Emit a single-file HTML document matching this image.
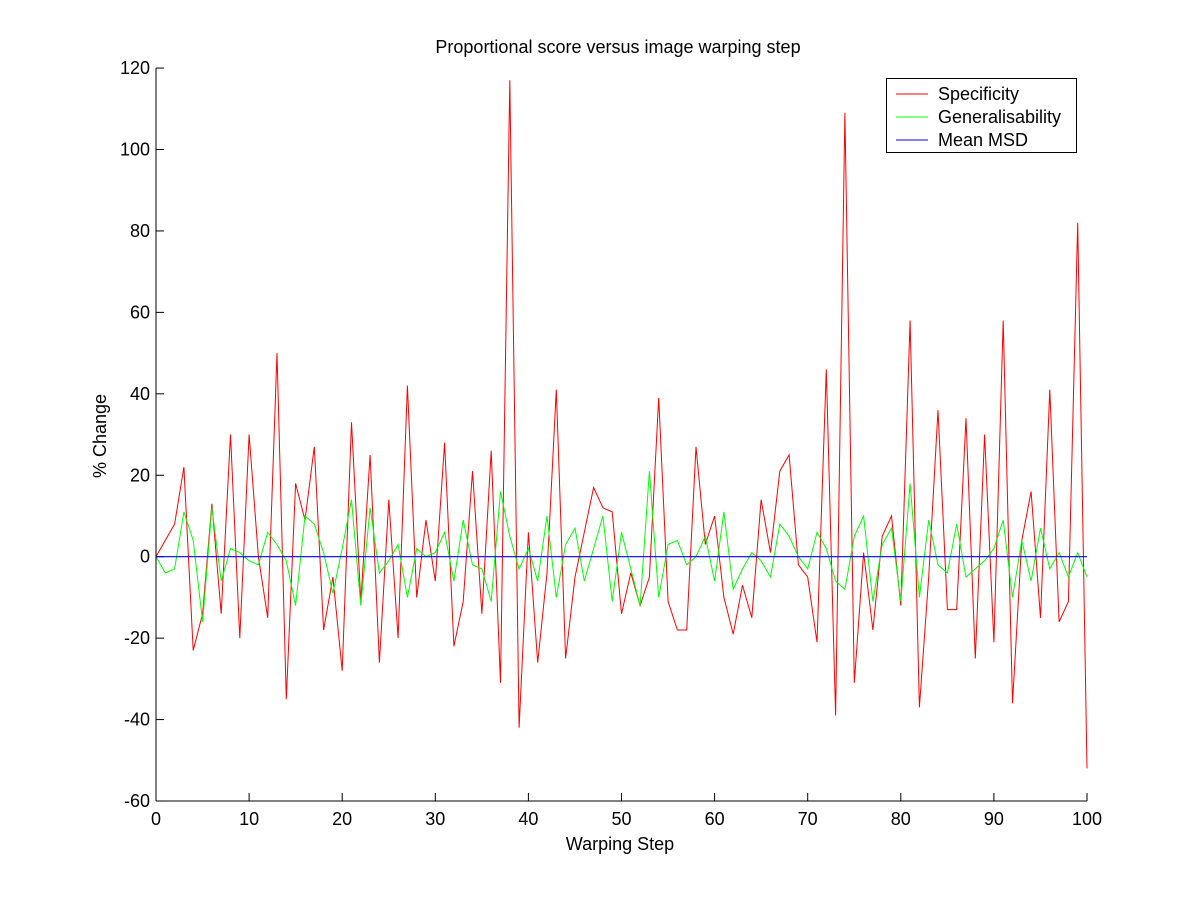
<!DOCTYPE html>
<html><head><meta charset="utf-8"><style>
body{margin:0;background:#fff}
svg text{font-family:"Liberation Sans",Arial,sans-serif;font-size:18px;fill:#000}
</style></head><body>
<svg id="s" width="1200" height="900" xmlns="http://www.w3.org/2000/svg">
<rect width="1200" height="900" fill="#fff"/>
<text x="618" y="53" text-anchor="middle">Proportional score versus image warping step</text>
<text x="620" y="850" text-anchor="middle">Warping Step</text>
<text transform="translate(106,436) rotate(-90)" text-anchor="middle">% Change</text>
<g id="ax"></g>
<polyline id="r" fill="none" stroke="#ff0000" stroke-width="1"/>
<polyline id="g" fill="none" stroke="#00ff00" stroke-width="1"/>
<line x1="156" y1="556.7" x2="1087" y2="556.7" stroke="#0000ff" stroke-width="1.2"/>
<line x1="156" y1="68" x2="156" y2="801" stroke="#000"/>
<line x1="156" y1="801" x2="1087" y2="801" stroke="#000"/>
<rect x="886.5" y="78.5" width="190" height="74" fill="#fff" stroke="#000"/>
<line x1="896" y1="94" x2="928" y2="94" stroke="#ff0000"/>
<line x1="896" y1="117" x2="928" y2="117" stroke="#00ff00"/>
<line x1="896" y1="140" x2="928" y2="140" stroke="#0000ff"/>
<text x="938" y="100">Specificity</text>
<text x="938" y="123">Generalisability</text>
<text x="938" y="146">Mean MSD</text>
</svg>
<script>
var X=function(i){return 156+i*9.31},Y=function(v){return 556.7-v*4.072};
var ax=document.getElementById('ax'),h='';
for(var i=0;i<=10;i++){var x=X(i*10);h+='<line x1="'+x+'" y1="801" x2="'+x+'" y2="793" stroke="#000"/><text x="'+x+'" y="825" text-anchor="middle">'+(i*10)+'</text>';}
for(var v=-60;v<=120;v+=20){var y=Y(v);h+='<line x1="156" y1="'+y+'" x2="164" y2="'+y+'" stroke="#000"/><text x="150" y="'+(y+6)+'" text-anchor="end">'+v+'</text>';}
ax.innerHTML=h;
var r=[0,4,8,22,-23,-14,13,-14,30,-20,30,0,-15,50,-35,18,9,27,-18,-5,-28,33,-11,25,-26,14,-20,42,-10,9,-6,28,-22,-11,21,-14,26,-31,117,-42,6,-26,-4,41,-25,-5,6,17,12,11,-14,-4,-12,-5,39,-11,-18,-18,27,3,10,-10,-19,-7,-15,14,1,21,25,-2,-5,-21,46,-39,109,-31,1,-18,5,10,-12,58,-37,-5,36,-13,-13,34,-25,30,-21,58,-36,4,16,-15,41,-16,-11,82,-52];
var g=[0,-4,-3,11,4,-16,12,-6,2,1,-1,-2,6,3,-1,-12,10,8,1,-9,2,14,-12,12,-4,-1,3,-10,2,0,1,6,-6,9,-2,-3,-11,16,5,-3,2,-6,10,-10,3,7,-6,2,10,-11,6,-3,-12,21,-10,3,4,-2,0,5,-6,11,-8,-3,1,-1,-5,8,5,0,-3,6,2,-6,-8,5,10,-11,3,7,-11,18,-10,9,-2,-4,8,-5,-3,-1,2,9,-10,4,-6,7,-3,1,-5,1,-5];
function pts(a){return a.slice(0,101).map(function(v,i){return X(i).toFixed(1)+','+Y(v).toFixed(1)}).join(' ')}
document.getElementById('r').setAttribute('points',pts(r));
document.getElementById('g').setAttribute('points',pts(g));
</script>
</body></html>
